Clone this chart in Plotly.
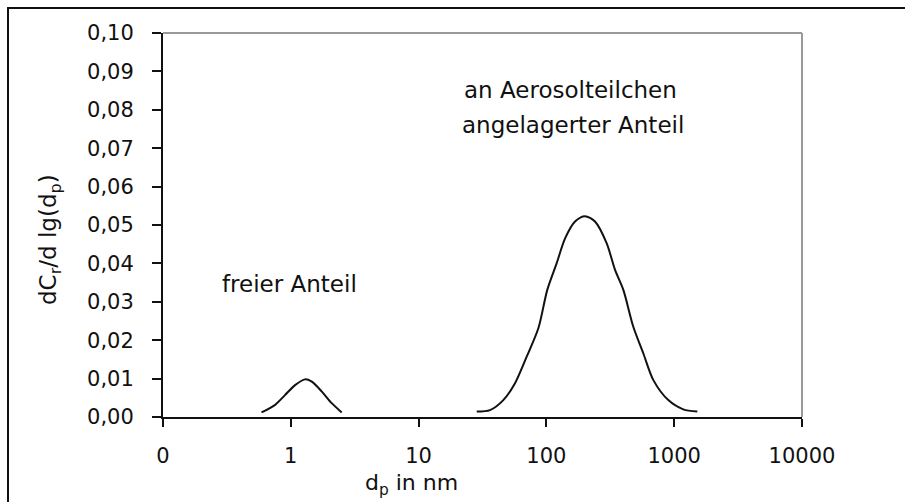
import plotly.graph_objects as go

# Data
free_d = [0.59, 0.75, 0.90, 1.08, 1.29, 1.46, 1.75, 2.09, 2.50]
free_v = [0.0012, 0.0031, 0.0057, 0.0083, 0.0098, 0.0092, 0.0066, 0.0036, 0.0012]

aero_d = [28.5, 36.2, 46.0, 56.8, 70.1, 86.5, 101.6, 120.2, 140.0, 167.5, 200.4,
          239.9, 296.5, 344.4, 400.0, 478.6, 572.8, 687.1, 899.5, 1177, 1517]
aero_v = [0.0014, 0.0018, 0.0044, 0.0088, 0.0157, 0.0231, 0.0331, 0.0400, 0.0465,
          0.0509, 0.0523, 0.0509, 0.0452, 0.0383, 0.0331, 0.0235, 0.0166, 0.0096,
          0.0044, 0.0020, 0.0014]

x_tickvals = [0.1, 1, 10, 100, 1000, 10000]
x_ticktext = ["0", "1", "10", "100", "1000", "10000"]
y_tickvals = [0.00, 0.01, 0.02, 0.03, 0.04, 0.05, 0.06, 0.07, 0.08, 0.09, 0.10]
y_ticktext = ["0,00", "0,01", "0,02", "0,03", "0,04", "0,05", "0,06", "0,07", "0,08", "0,09", "0,10"]

FONT = "DejaVu Sans"
INK = "#111111"

fig = go.Figure()
for xs, ys in ((free_d, free_v), (aero_d, aero_v)):
    fig.add_trace(go.Scatter(x=xs, y=ys, mode="lines",
                             line=dict(color=INK, width=2, shape="spline", smoothing=0.8),
                             showlegend=False, hoverinfo="skip"))

W, H = 905, 502
L, R, T, B = 163, 103, 33, 85
pw, ph = W - L - R, H - T - B

def px(x):
    return (x - L) / pw

def py(y):
    return (H - B - y) / ph

fig.update_layout(
    width=W, height=H,
    margin=dict(l=L, r=R, t=T, b=B, pad=0),
    paper_bgcolor="white", plot_bgcolor="white",
    font=dict(family=FONT, size=22, color=INK),
    xaxis=dict(type="log", range=[-1, 4], tickvals=x_tickvals, ticktext=x_ticktext,
               showgrid=False, zeroline=False, showline=True, linecolor=INK, linewidth=2,
               ticks="outside", ticklen=8, tickwidth=2, tickcolor=INK,
               ticklabelstandoff=11, tickfont=dict(family=FONT, size=21, color=INK)),
    yaxis=dict(range=[0, 0.10], tickvals=y_tickvals, ticktext=y_ticktext,
               showgrid=False, zeroline=False, showline=True, linecolor=INK, linewidth=2,
               ticks="outside", ticklen=9, tickwidth=2, tickcolor=INK,
               ticklabelstandoff=14, tickfont=dict(family=FONT, size=21, color=INK)),
    shapes=[
        # outer frame (cropped at right and bottom)
        dict(type="rect", xref="paper", yref="paper",
             x0=px(8), x1=px(1000), y0=py(600), y1=py(8),
             line=dict(color=INK, width=2), layer="below"),
        # gray top and right plot border
        dict(type="line", xref="paper", yref="paper", x0=0, x1=1, y0=1, y1=1,
             line=dict(color="#9a9a9a", width=2)),
        dict(type="line", xref="paper", yref="paper", x0=1, x1=1, y0=0, y1=1,
             line=dict(color="#9a9a9a", width=2)),
    ],
    annotations=[
        dict(text="an Aerosolteilchen", xref="paper", yref="paper",
             x=px(570), y=py(90), xanchor="center", yanchor="middle",
             showarrow=False, font=dict(family=FONT, size=23, color=INK)),
        dict(text="angelagerter Anteil", xref="paper", yref="paper",
             x=px(573), y=py(125), xanchor="center", yanchor="middle",
             showarrow=False, font=dict(family=FONT, size=23, color=INK)),
        dict(text="freier Anteil", xref="paper", yref="paper",
             x=px(359), y=py(284), xanchor="right", yanchor="middle",
             showarrow=False, font=dict(family=FONT, size=23, color=INK)),
        dict(text="d<sub>p</sub> in nm", xref="paper", yref="paper",
             x=px(411), y=py(484), xanchor="center", yanchor="middle",
             showarrow=False, font=dict(family=FONT, size=22, color=INK)),
        dict(text="dC<sub>r</sub>/d lg(d<sub>p</sub>)", xref="paper", yref="paper",
             x=px(50), y=py(240), xanchor="center", yanchor="middle", textangle=-90,
             showarrow=False, font=dict(family=FONT, size=23, color=INK)),
    ],
)

fig.write_html("out.html")
